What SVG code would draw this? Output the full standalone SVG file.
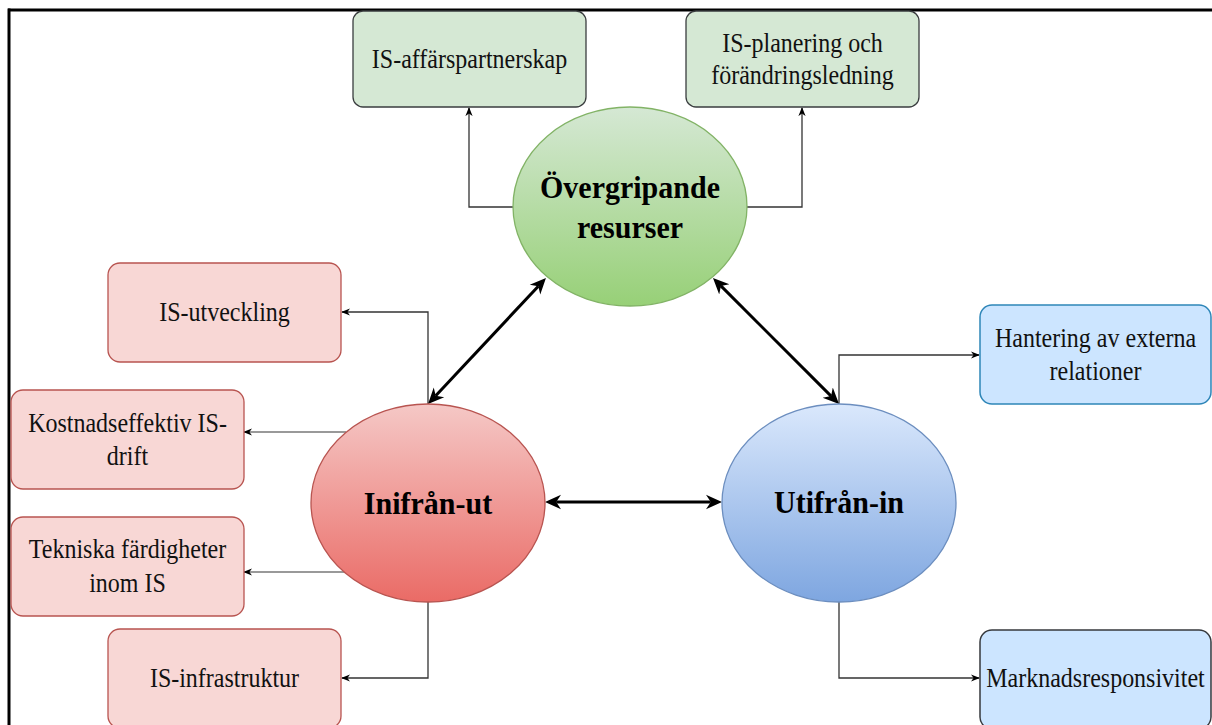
<svg xmlns="http://www.w3.org/2000/svg" width="1212" height="725" viewBox="0 0 1212 725">
<style>
  .lbl { font-family: "Liberation Serif", "Times New Roman", serif; font-size: 24px; fill: #111; text-anchor: middle; }
  .big { font-family: "Liberation Serif", "Times New Roman", serif; font-size: 30px; font-weight: bold; fill: #000; text-anchor: middle; }
  .gbox { fill: #d5e8d4; stroke: #3a3d3f; stroke-width: 1.3; }
  .rbox { fill: #f8d7d5; stroke: #b85450; stroke-width: 1.3; }
  .bbox1 { fill: #cce5ff; stroke: #2e86b8; stroke-width: 1.5; }
  .bbox2 { fill: #cce5ff; stroke: #36393d; stroke-width: 1.5; }
  .thin { fill: none; stroke: #333; stroke-width: 1.3; marker-end: url(#thinArrow); }
  .thing { fill: none; stroke: #777; stroke-width: 1.6; marker-end: url(#thinArrow); }
  .thick { fill: none; stroke: #000; stroke-width: 3; marker-start: url(#thickArrow); marker-end: url(#thickArrow); }
</style>
<defs>
  <linearGradient id="gGreen" x1="0" y1="0" x2="0" y2="1">
    <stop offset="0" stop-color="#d5e8d4"/>
    <stop offset="1" stop-color="#97d077"/>
  </linearGradient>
  <linearGradient id="gRed" x1="0" y1="0" x2="0" y2="1">
    <stop offset="0" stop-color="#f5c8c6"/>
    <stop offset="1" stop-color="#ea6b66"/>
  </linearGradient>
  <linearGradient id="gBlue" x1="0" y1="0" x2="0" y2="1">
    <stop offset="0" stop-color="#dae8fc"/>
    <stop offset="1" stop-color="#7ea6e0"/>
  </linearGradient>
  <marker id="thinArrow" viewBox="0 0 10 10" refX="9" refY="5" markerWidth="9" markerHeight="9" markerUnits="userSpaceOnUse" orient="auto">
    <path d="M0,1 L10,5 L0,9 L3,5 z" fill="#000"/>
  </marker>
  <marker id="thickArrow" viewBox="0 0 10 10" refX="3" refY="5" markerWidth="16" markerHeight="16" markerUnits="userSpaceOnUse" orient="auto-start-reverse">
    <path d="M0,0.5 L10,5 L0,9.5 L3,5 z" fill="#000"/>
  </marker>
</defs>

<rect width="1212" height="725" fill="#fff"/>
<g id="frame">
  <line x1="8" y1="10" x2="1212" y2="10" stroke="#000" stroke-width="3"/>
  <line x1="9" y1="8.5" x2="9" y2="725" stroke="#000" stroke-width="3"/>
</g>

<g id="connectors">
  <polyline class="thin" points="513,207 469,207 469,108"/>
  <polyline class="thin" points="747,207 802,207 802,108"/>
  <polyline class="thin" points="428,404 428,312 342,312"/>
  <polyline class="thing" points="346,432 244,432"/>
  <polyline class="thing" points="346,572 244,572"/>
  <polyline class="thin" points="428,602 428,678 342,678"/>
  <polyline class="thin" points="839,404 839,355 979,355"/>
  <polyline class="thin" points="839,602 839,678 979,678"/>
  <line class="thick" x1="435.7" y1="395.8" x2="538.3" y2="286.2"/>
  <line class="thick" x1="831.1" y1="396.1" x2="720.9" y2="285.9"/>
  <line class="thick" x1="556.2" y1="502" x2="710.8" y2="502"/>
</g>

<g id="node-affarspartnerskap">
  <rect class="gbox" x="353" y="11" width="233" height="96" rx="10"/>
  <text class="lbl" transform="translate(469.5,68) scale(1,1.13)">IS-affärspartnerskap</text>
</g>
<g id="node-planering">
  <rect class="gbox" x="686" y="11" width="233" height="96" rx="10"/>
  <text class="lbl" transform="translate(802.5,52) scale(1,1.13)">IS-planering och</text>
  <text class="lbl" transform="translate(802.5,84) scale(1,1.13)">förändringsledning</text>
</g>
<g id="node-overgripande">
  <ellipse cx="630" cy="206.5" rx="117" ry="99.5" fill="url(#gGreen)" stroke="#82b366" stroke-width="1.3"/>
  <text class="big" transform="translate(630,198) scale(1,1.06)">Övergripande</text>
  <text class="big" transform="translate(630,238) scale(1,1.06)">resurser</text>
</g>
<g id="node-utveckling">
  <rect class="rbox" x="108" y="263" width="233" height="99" rx="12"/>
  <text class="lbl" transform="translate(224.5,321) scale(1,1.13)">IS-utveckling</text>
</g>
<g id="node-kostnad">
  <rect class="rbox" x="11" y="390" width="233" height="99" rx="12"/>
  <text class="lbl" transform="translate(127.5,432) scale(1,1.13)">Kostnadseffektiv IS-</text>
  <text class="lbl" transform="translate(127.5,465) scale(1,1.13)">drift</text>
</g>
<g id="node-tekniska">
  <rect class="rbox" x="11" y="517" width="233" height="99" rx="12"/>
  <text class="lbl" transform="translate(127.5,558) scale(1,1.13)">Tekniska färdigheter</text>
  <text class="lbl" transform="translate(127.5,592) scale(1,1.13)">inom IS</text>
</g>
<g id="node-infrastruktur">
  <rect class="rbox" x="108" y="629" width="233" height="99" rx="12"/>
  <text class="lbl" transform="translate(224.5,687) scale(1,1.13)">IS-infrastruktur</text>
</g>
<g id="node-inifran">
  <ellipse cx="428" cy="503" rx="117" ry="99" fill="url(#gRed)" stroke="#b85450" stroke-width="1.3"/>
  <text class="big" transform="translate(428,514) scale(1,1.06)">Inifrån-ut</text>
</g>
<g id="node-utifran">
  <ellipse cx="839" cy="503" rx="117" ry="99" fill="url(#gBlue)" stroke="#6c8ebf" stroke-width="1.3"/>
  <text class="big" transform="translate(839,513) scale(1,1.06)">Utifrån-in</text>
</g>
<g id="node-hantering">
  <rect class="bbox1" x="980" y="305" width="231" height="99" rx="12"/>
  <text class="lbl" transform="translate(1095.5,347) scale(1,1.13)">Hantering av externa</text>
  <text class="lbl" transform="translate(1095.5,380) scale(1,1.13)">relationer</text>
</g>
<g id="node-marknad">
  <rect class="bbox2" x="980" y="630" width="231" height="99" rx="12"/>
  <text class="lbl" transform="translate(1095.5,687) scale(1,1.13)">Marknadsresponsivitet</text>
</g>
</svg>
